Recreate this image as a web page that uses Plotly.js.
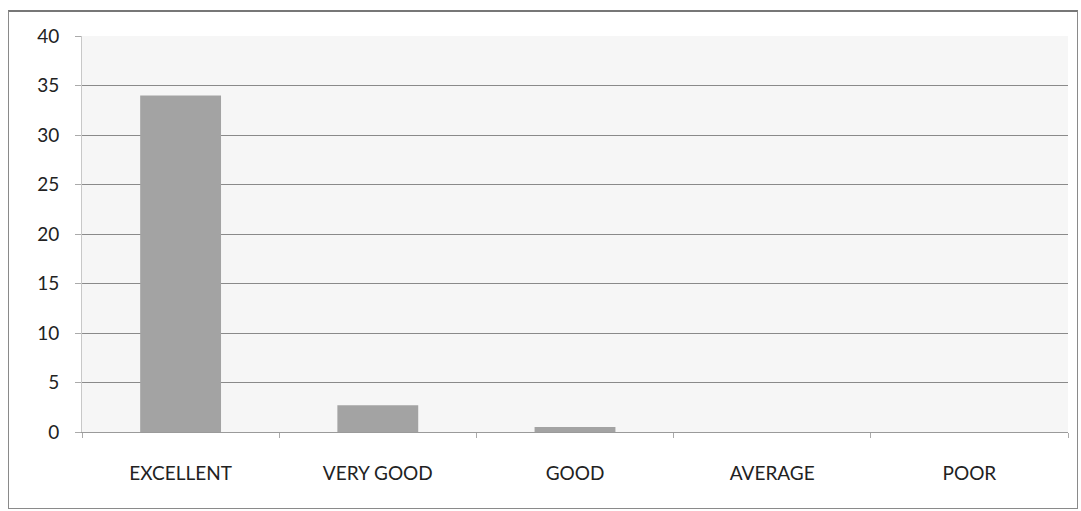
<!DOCTYPE html>
<html>
<head>
<meta charset="utf-8">
<script src="https://cdn.plot.ly/plotly-3.0.1.min.js"></script>
<style>
  html, body { margin: 0; padding: 0; background: #ffffff; }
  #frame { position: absolute; left: 8px; top: 10px; width: 1068px; height: 496px; border: 1px solid #8a8a8a; border-top: 2px solid #777; }
  #chart { position: absolute; left: 0; top: 0; width: 1081px; height: 511px; }
</style>
</head>
<body>
<div id="frame"></div>
<div id="chart"></div>
<script>
const categories = ["EXCELLENT", "VERY GOOD", "GOOD", "AVERAGE", "POOR"];
const values = [34, 2.7, 0.5, 0, 0];
const yTickValues = [0, 5, 10, 15, 20, 25, 30, 35, 40];

const trace = {
  type: "bar",
  x: categories,
  y: values,
  marker: { color: "#a3a3a3", line: { color: "#8c8c8c", width: 0 } },
  hoverinfo: "x+y"
};

const layout = {
  width: 1081,
  height: 511,
  margin: { l: 82, r: 13, t: 36, b: 79 },
  paper_bgcolor: "rgba(0,0,0,0)",
  plot_bgcolor: "#f6f6f6",
  bargap: 0.59,
  showlegend: false,
  font: { family: "Lato, 'Open Sans', sans-serif", size: 19, color: "#222" },
  xaxis: {
    type: "category",
    showgrid: false,
    showline: true,
    linecolor: "#9a9a9a",
    linewidth: 1,
    ticks: "outside",
    tickson: "boundaries",
    ticklen: 5,
    tickcolor: "#aaa",
    ticklabelstandoff: 24,
    tickfont: { size: 19, color: "#222" }
  },
  yaxis: {
    range: [0, 40],
    tickvals: yTickValues,
    showgrid: true,
    gridcolor: "#8a8a8a",
    gridwidth: 1,
    zeroline: false,
    showline: true,
    linecolor: "#c8c8c8",
    ticks: "outside",
    ticklen: 6,
    tickcolor: "#aaa",
    ticklabelstandoff: 12,
    tickfont: { size: 19, color: "#222" }
  }
};

Plotly.newPlot("chart", [trace], layout, { displayModeBar: false, staticPlot: true });
</script>
</body>
</html>
